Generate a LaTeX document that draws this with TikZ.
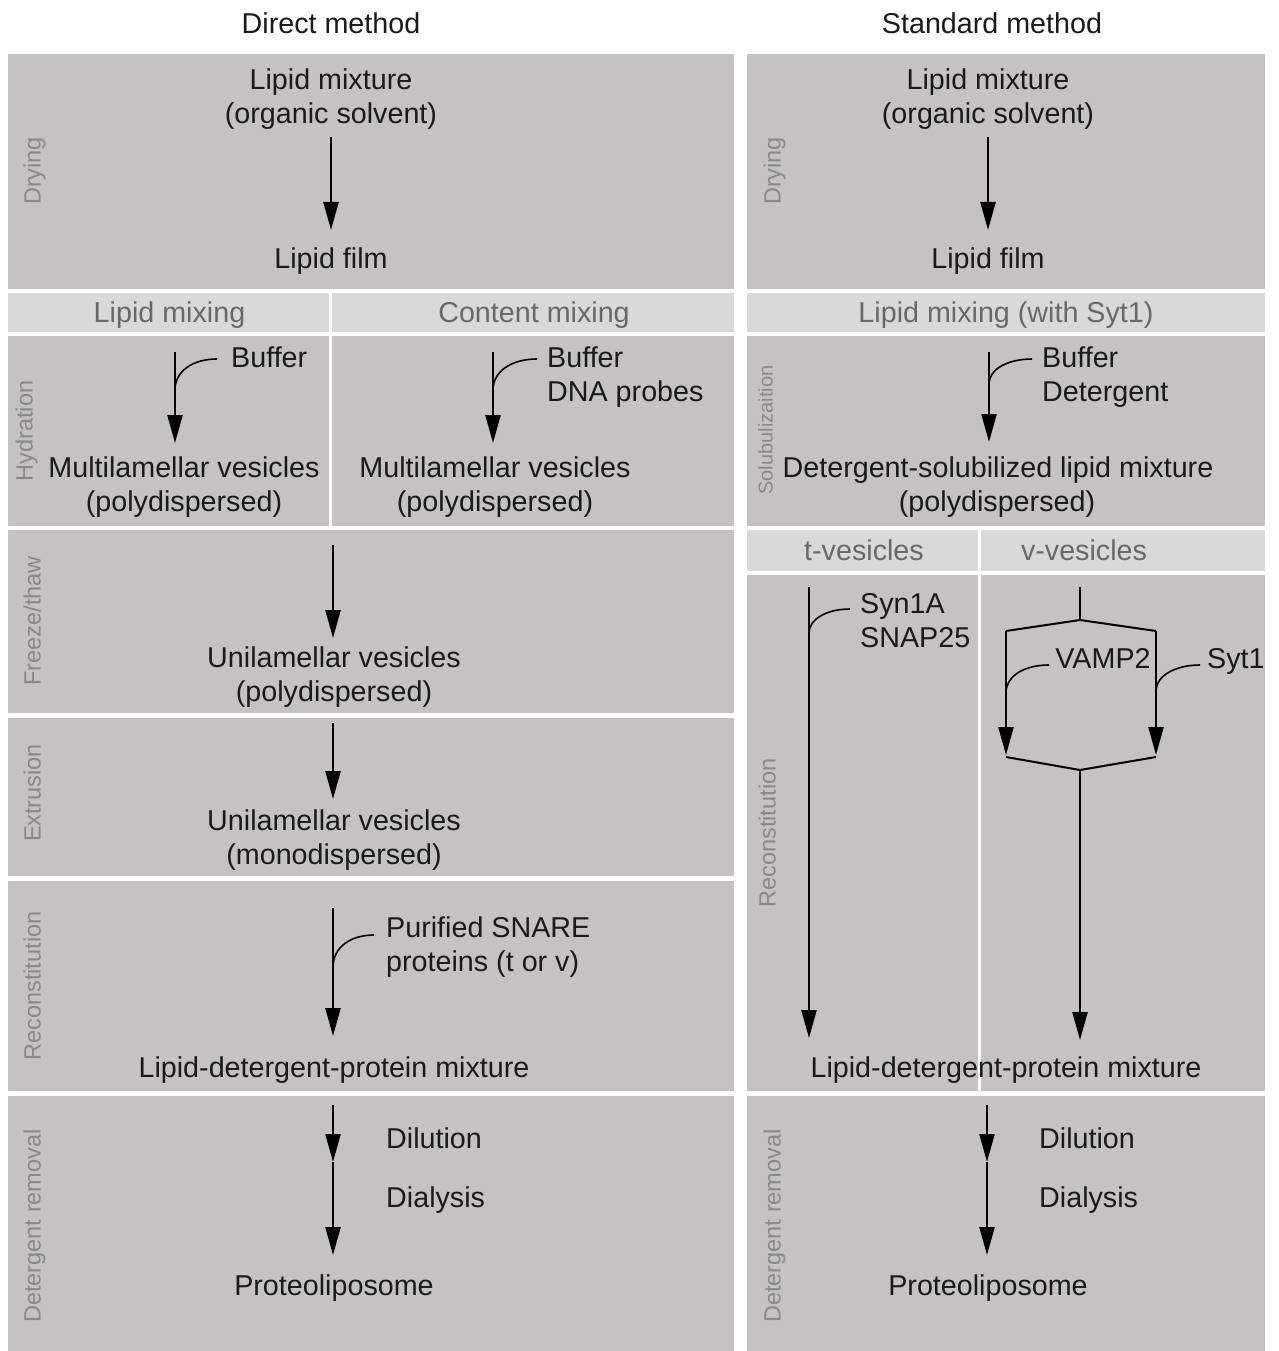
\documentclass[tikz,border=0pt]{standalone}
\usepackage{fontspec}
\setmainfont{Liberation Sans}
\usetikzlibrary{arrows.meta}
\definecolor{panel}{HTML}{C4C2C3}
\definecolor{hdr}{HTML}{D9D9D9}
\definecolor{lblc}{HTML}{888888}
\definecolor{hdrtxt}{HTML}{686868}
\definecolor{ink}{HTML}{1A1A1A}
\begin{document}
\begin{tikzpicture}[x=1pt,y=-1pt,
  txt/.style={font=\fontsize{28.7}{34}\selectfont, text=ink, anchor=base, inner sep=0pt},
  ltxt/.style={txt, anchor=base west},
  htxt/.style={txt, text=hdrtxt},
  side/.style={font=\fontsize{23.5}{28}\selectfont, text=lblc, rotate=90, anchor=mid, inner sep=0pt},
  arr/.style={draw=black, line width=2.4pt, -{Triangle[length=28pt,width=15pt]}},
  branch/.style={draw=black, line width=1.6pt},
  vline/.style={draw=black, line width=2pt},
  divider/.style={draw=white, line width=3pt}]
\useasboundingbox (0,0) rectangle (1278,1351);
\fill[white] (0,0) rectangle (1278,1351);

% ---------- panels, left ----------
\fill[panel] (8,54) rectangle (734,289);
\fill[hdr]   (8,293) rectangle (734,332);
\fill[panel] (8,336) rectangle (734,526);
\fill[panel] (8,530) rectangle (734,713);
\fill[panel] (8,718) rectangle (734,876);
\fill[panel] (8,881) rectangle (734,1091);
\fill[panel] (8,1096) rectangle (734,1351);
\draw[divider] (330.5,293) -- (330.5,526);
% ---------- panels, right ----------
\fill[panel] (747,54) rectangle (1265,289);
\fill[hdr]   (747,293) rectangle (1265,332);
\fill[panel] (747,336) rectangle (1265,526);
\fill[hdr]   (747,530) rectangle (1265,571);
\fill[panel] (747,575) rectangle (1265,1091);
\fill[panel] (747,1096) rectangle (1265,1351);
\draw[divider] (979,530) -- (979,1091);

% ---------- titles ----------
\node[txt] (tD) at (331,34) {Direct method};
\node[txt] (tS) at (992,34) {Standard method};

% ---------- left: drying ----------
\node[txt] (lmA) at (331,90) {Lipid mixture};
\node[txt] (lmB) at (331,124) {(organic solvent)};
\coordinate (a1s) at (331,137); \coordinate (a1e) at (331,230);
\draw[arr] (a1s) -- (a1e);
\node[txt] (lfL) at (331,268) {Lipid film};
\node[side] (sDryL) at (38,171) {Drying};

% ---------- headers ----------
\node[htxt] (hLM) at (169.5,322) {Lipid mixing};
\node[htxt] (hCM) at (534,322) {Content mixing};
\node[htxt] (hLMS) at (1006,322) {Lipid mixing (with Syt1)};
\node[htxt] (hT) at (864,560) {t-vesicles};
\node[htxt] (hV) at (1084,560) {v-vesicles};

% ---------- left: hydration ----------
\coordinate (h1s) at (175,352); \coordinate (h1e) at (175,443);
\coordinate (h1j) at (175,390); \coordinate (h1c) at (217,359);
\draw[arr] (h1s) -- (h1e);
\draw[branch] (h1c) .. controls (193,359) and (175,371) .. (h1j);
\node[ltxt] (bufA) at (231,367) {Buffer};
\node[txt] (mvA) at (184,477) {Multilamellar vesicles};
\node[txt] (mvAb) at (184,511) {(polydispersed)};
\node[side] (sHyd) at (30,431) {Hydration};

\coordinate (h2s) at (493,352); \coordinate (h2e) at (493,443);
\coordinate (h2j) at (493,390); \coordinate (h2c) at (537,359);
\draw[arr] (h2s) -- (h2e);
\draw[branch] (h2c) .. controls (512,359) and (493,371) .. (h2j);
\node[ltxt] (bufB) at (547,367) {Buffer};
\node[ltxt] (dna) at (547,401) {DNA probes};
\node[txt] (mvB) at (495,477) {Multilamellar vesicles};
\node[txt] (mvBb) at (495,511) {(polydispersed)};

% ---------- left: freeze/thaw ----------
\coordinate (f1s) at (333,545); \coordinate (f1e) at (333,638);
\draw[arr] (f1s) -- (f1e);
\node[txt] (uvA) at (334,667) {Unilamellar vesicles};
\node[txt] (uvAb) at (334,701) {(polydispersed)};
\node[side] (sFT) at (38,621) {Freeze/thaw};

% ---------- left: extrusion ----------
\coordinate (e1s) at (333,723); \coordinate (e1e) at (333,799);
\draw[arr] (e1s) -- (e1e);
\node[txt] (uvB) at (334,830) {Unilamellar vesicles};
\node[txt] (uvBb) at (334,864) {(monodispersed)};
\node[side] (sExt) at (38,793) {Extrusion};

% ---------- left: reconstitution ----------
\coordinate (r1s) at (333,908); \coordinate (r1e) at (333,1036);
\coordinate (r1j) at (333,967); \coordinate (r1c) at (374,935);
\draw[arr] (r1s) -- (r1e);
\draw[branch] (r1c) .. controls (351,935) and (333,947) .. (r1j);
\node[ltxt] (psA) at (386,937) {Purified SNARE};
\node[ltxt] (psB) at (386,971) {proteins (t or v)};
\node[txt] (ldpL) at (334,1077) {Lipid-detergent-protein mixture};
\node[side] (sRecL) at (38,986) {Reconstitution};

% ---------- left: detergent removal ----------
\coordinate (d1s) at (333,1105); \coordinate (d1m) at (333,1162); \coordinate (d1e) at (333,1255);
\draw[arr] (d1s) -- (d1m);
\draw[arr] (d1m) -- (d1e);
\node[ltxt] (dilL) at (386,1148) {Dilution};
\node[ltxt] (diaL) at (386,1207) {Dialysis};
\node[txt] (plL) at (334,1295) {Proteoliposome};
\node[side] (sDetL) at (38,1226) {Detergent removal};

% ---------- right: drying ----------
\node[txt] (lmC) at (988,90) {Lipid mixture};
\node[txt] (lmD) at (988,124) {(organic solvent)};
\coordinate (a2s) at (988,137); \coordinate (a2e) at (988,230);
\draw[arr] (a2s) -- (a2e);
\node[txt] (lfR) at (988,268) {Lipid film};
\node[side] (sDryR) at (778,171) {Drying};

% ---------- right: solubilization ----------
\coordinate (s1s) at (989,352); \coordinate (s1e) at (989,442);
\coordinate (s1j) at (989,384); \coordinate (s1c) at (1032,359);
\draw[arr] (s1s) -- (s1e);
\draw[branch] (s1c) .. controls (1008,359) and (989,369) .. (s1j);
\node[ltxt] (bufC) at (1042,367) {Buffer};
\node[ltxt] (det) at (1042,401) {Detergent};
\node[txt] (dsl) at (998,477) {Detergent-solubilized lipid mixture};
\node[txt] (dslb) at (997,511) {(polydispersed)};
\node[side, font=\fontsize{20}{24}\selectfont] (sSol) at (770,430) {Solubulizaition};

% ---------- right: reconstitution, t-vesicles ----------
\coordinate (ts) at (809,587); \coordinate (te) at (809,1038);
\coordinate (tj) at (809,633); \coordinate (tc) at (850,609);
\draw[arr] (ts) -- (te);
\draw[branch] (tc) .. controls (827,609) and (809,619) .. (tj);
\node[ltxt] (syn) at (860,613) {Syn1A};
\node[ltxt] (snap) at (860,647) {SNAP25};

% ---------- right: reconstitution, v-vesicles ----------
\coordinate (vs) at (1080,587); \coordinate (vt) at (1080,620);
\coordinate (vl) at (1006,631); \coordinate (vr) at (1156,631);
\coordinate (vle) at (1006,755); \coordinate (vre) at (1156,755);
\coordinate (vlb) at (1006,757); \coordinate (vrb) at (1156,757);
\coordinate (vb) at (1080,770); \coordinate (ve) at (1080,1040);
\draw[vline] (vs) -- (vt);
\draw[vline] (vl) -- (vt) -- (vr);
\draw[arr] (vl) -- (vle);
\draw[arr] (vr) -- (vre);
\draw[vline] (vlb) -- (vb) -- (vrb);
\draw[arr] (vb) -- (ve);
\node[txt] (vamp) at (1103,668) {VAMP2};
\node[ltxt] (syt) at (1207,668) {Syt1};
\coordinate (vc1) at (1049,665); \coordinate (vj1) at (1006,693);
\coordinate (vc2) at (1200,665); \coordinate (vj2) at (1156,691);
\draw[branch] (vc1) .. controls (1024,665) and (1006,676) .. (vj1);
\draw[branch] (vc2) .. controls (1175,665) and (1156,676) .. (vj2);
\node[txt] (ldpR) at (1006,1077) {Lipid-detergent-protein mixture};
\node[side] (sRecR) at (773,833) {Reconstitution};

% ---------- right: detergent removal ----------
\coordinate (d2s) at (987,1105); \coordinate (d2m) at (987,1162); \coordinate (d2e) at (987,1255);
\draw[arr] (d2s) -- (d2m);
\draw[arr] (d2m) -- (d2e);
\node[ltxt] (dilR) at (1039,1148) {Dilution};
\node[ltxt] (diaR) at (1039,1207) {Dialysis};
\node[txt] (plR) at (988,1295) {Proteoliposome};
\node[side] (sDetR) at (778,1226) {Detergent removal};
\end{tikzpicture}
\end{document}
